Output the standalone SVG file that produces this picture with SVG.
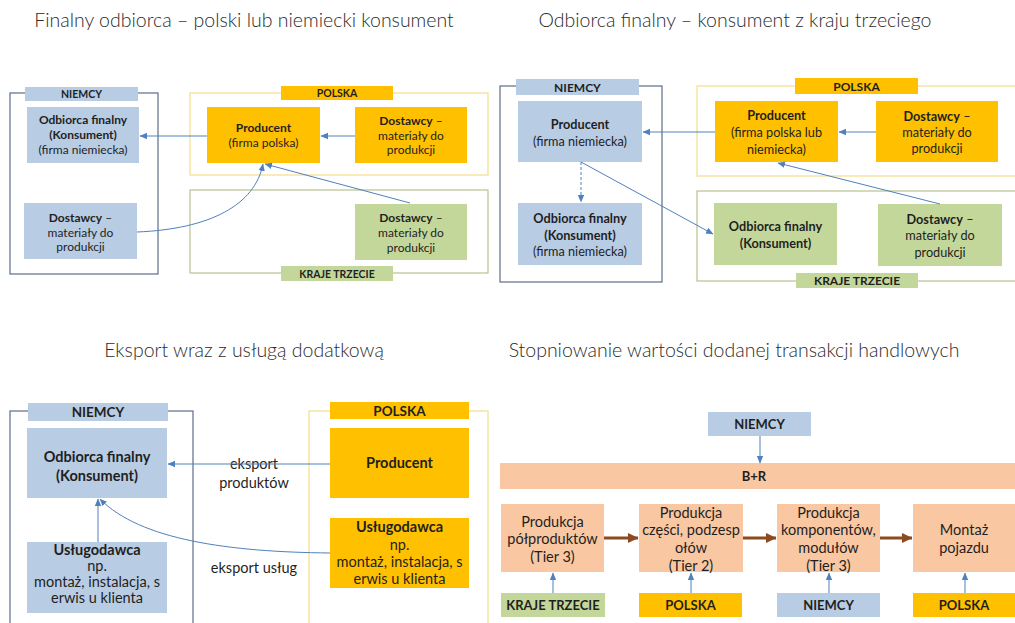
<svg xmlns="http://www.w3.org/2000/svg" width="1015" height="623" viewBox="0 0 1015 623">
<style>
.title{font-family:Lato,"Liberation Sans",sans-serif;font-weight:300;font-size:19.5px;fill:#2b2b2b;text-anchor:middle}
.t{font-family:Lato,"Liberation Sans",sans-serif;fill:#1f1f1f;text-anchor:middle}
.b{font-weight:bold}
.s1{font-size:12px}
.s2{font-size:12.7px}
.s3{font-size:14.5px}
.blue{fill:#b8cce4}
.gold{fill:#ffc000}
.green{fill:#c4d79b}
.peach{fill:#f9c7a2}
.frDE{fill:none;stroke:#5a6e88;stroke-width:1.2}
.frPL{fill:none;stroke:#f3de8a;stroke-width:1.2}
.frKT{fill:none;stroke:#b9c28f;stroke-width:1.2}
.c{fill:none;stroke:#4f81bd;stroke-width:1;marker-end:url(#ah)}
.cd{fill:none;stroke:#4f81bd;stroke-width:1;stroke-dasharray:3,2;marker-end:url(#ah)}
.cb{fill:none;stroke:#8c4a22;stroke-width:3;marker-end:url(#ahb)}
</style>
<defs>
<marker id="ah" markerUnits="userSpaceOnUse" markerWidth="8" markerHeight="8" viewBox="0 0 8 8" refX="7" refY="4" orient="auto">
<path d="M0,0.8 L7.5,4 L0,7.2 Z" fill="#4f81bd"/>
</marker>
<marker id="ahb" markerUnits="userSpaceOnUse" markerWidth="11" markerHeight="11" viewBox="0 0 11 11" refX="10" refY="5.5" orient="auto">
<path d="M0,0.5 L10.5,5.5 L0,10.5 Z" fill="#8c4a22"/>
</marker>
</defs>
<rect width="1015" height="623" fill="#ffffff"/>

<!-- Titles -->
<text class="title" x="244" y="27">Finalny odbiorca – polski lub niemiecki konsument</text>
<text class="title" x="735" y="27">Odbiorca finalny – konsument z kraju trzeciego</text>
<text class="title" x="244" y="357">Eksport wraz z usługą dodatkową</text>
<text class="title" x="734" y="357">Stopniowanie wartości dodanej transakcji handlowych</text>

<!-- ===== Quadrant 1 ===== -->
<g id="q1-niemcy-frame">
<rect class="frDE" x="10" y="93" width="148" height="181"/>
<rect class="blue" x="25" y="87" width="113" height="14"/>
<text class="t b" style="font-size:10.5px" x="81.5" y="98">NIEMCY</text>
</g>
<g id="q1-polska-frame">
<rect class="frPL" x="190" y="93" width="298" height="82"/>
<rect class="gold" x="281" y="86" width="112" height="14"/>
<text class="t b" style="font-size:10.5px" x="337" y="97">POLSKA</text>
</g>
<g id="q1-kt-frame">
<rect class="frKT" x="190" y="190" width="298" height="83"/>
<rect class="green" x="281" y="266" width="112" height="15"/>
<text class="t b" style="font-size:10.5px" x="337" y="277.5">KRAJE TRZECIE</text>
</g>
<g id="q1-odbiorca">
<rect class="blue" x="27" y="107" width="112" height="56"/>
<text class="t s1"><tspan class="b" x="83" y="124">Odbiorca finalny</tspan><tspan class="b" x="83" y="139">(Konsument)</tspan><tspan x="83" y="154">(firma niemiecka)</tspan></text>
</g>
<g id="q1-dostawcy-de">
<rect class="blue" x="24" y="203" width="113" height="56"/>
<text class="t s1"><tspan x="80.5" y="222"><tspan class="b">Dostawcy</tspan> –</tspan><tspan x="80.5" y="236.5">materiały do</tspan><tspan x="80.5" y="251">produkcji</tspan></text>
</g>
<g id="q1-producent">
<rect class="gold" x="207" y="107" width="113" height="56"/>
<text class="t s1"><tspan class="b" x="263.5" y="132">Producent</tspan><tspan x="263.5" y="147">(firma polska)</tspan></text>
</g>
<g id="q1-dostawcy-pl">
<rect class="gold" x="355" y="107" width="112" height="56"/>
<text class="t s1"><tspan x="411" y="125"><tspan class="b">Dostawcy</tspan> –</tspan><tspan x="411" y="140">materiały do</tspan><tspan x="411" y="154">produkcji</tspan></text>
</g>
<g id="q1-dostawcy-kt">
<rect class="green" x="355" y="204" width="112" height="56"/>
<text class="t s1"><tspan x="411" y="222"><tspan class="b">Dostawcy</tspan> –</tspan><tspan x="411" y="237">materiały do</tspan><tspan x="411" y="252">produkcji</tspan></text>
</g>

<!-- ===== Quadrant 2 ===== -->
<g id="q2-niemcy-frame">
<rect class="frDE" x="500" y="86" width="162" height="196"/>
<rect class="blue" x="516" y="79" width="123" height="16"/>
<text class="t b" style="font-size:12px" x="577.5" y="91.5">NIEMCY</text>
</g>
<g id="q2-polska-frame">
<rect class="frPL" x="697" y="86" width="330" height="90"/>
<rect class="gold" x="795" y="78" width="123" height="16"/>
<text class="t b" style="font-size:12px" x="856.5" y="90.5">POLSKA</text>
</g>
<g id="q2-kt-frame">
<rect class="frKT" x="697" y="191" width="330" height="90"/>
<rect class="green" x="796" y="273" width="122" height="15"/>
<text class="t b" style="font-size:12px" x="857" y="285">KRAJE TRZECIE</text>
</g>
<g id="q2-producent-de">
<rect class="blue" x="518" y="101" width="124" height="61"/>
<text class="t s2"><tspan class="b" x="580" y="128.5">Producent</tspan><tspan x="580" y="145.5">(firma niemiecka)</tspan></text>
</g>
<g id="q2-odbiorca-de">
<rect class="blue" x="518" y="203" width="124" height="62"/>
<text class="t s2"><tspan class="b" x="580" y="222.5">Odbiorca finalny</tspan><tspan class="b" x="580" y="239.5">(Konsument)</tspan><tspan x="580" y="255.5">(firma niemiecka)</tspan></text>
</g>
<g id="q2-producent-pl">
<rect class="gold" x="715" y="101" width="123" height="61"/>
<text class="t s2"><tspan class="b" x="776.5" y="119.5">Producent</tspan><tspan x="776.5" y="136.5">(firma polska lub</tspan><tspan x="776.5" y="153.5">niemiecka)</tspan></text>
</g>
<g id="q2-dostawcy-pl">
<rect class="gold" x="876" y="101" width="122" height="61"/>
<text class="t s2"><tspan x="937" y="120.5"><tspan class="b">Dostawcy</tspan> –</tspan><tspan x="937" y="136.5">materiały do</tspan><tspan x="937" y="152.5">produkcji</tspan></text>
</g>
<g id="q2-odbiorca-kt">
<rect class="green" x="714" y="203" width="123" height="62"/>
<text class="t s2"><tspan class="b" x="775.5" y="230.5">Odbiorca finalny</tspan><tspan class="b" x="775.5" y="247.5">(Konsument)</tspan></text>
</g>
<g id="q2-dostawcy-kt">
<rect class="green" x="878" y="204" width="124" height="62"/>
<text class="t s2"><tspan x="940" y="223.5"><tspan class="b">Dostawcy</tspan> –</tspan><tspan x="940" y="239.5">materiały do</tspan><tspan x="940" y="256.5">produkcji</tspan></text>
</g>

<!-- ===== Quadrant 3 ===== -->
<g id="q3-niemcy-frame">
<rect class="frDE" x="10" y="411" width="183" height="230"/>
<rect class="blue" x="28" y="403" width="140" height="18"/>
<text class="t b" style="font-size:13.5px" x="98" y="417">NIEMCY</text>
</g>
<g id="q3-polska-frame">
<rect class="frPL" x="309" y="411" width="179" height="230"/>
<rect class="gold" x="330" y="402" width="139" height="17"/>
<text class="t b" style="font-size:13.5px" x="399.5" y="415.5">POLSKA</text>
</g>
<g id="q3-odbiorca">
<rect class="blue" x="27" y="428" width="140" height="70"/>
<text class="t s3 b"><tspan x="97" y="462">Odbiorca finalny</tspan><tspan x="97" y="481">(Konsument)</tspan></text>
</g>
<g id="q3-uslugodawca-de">
<rect class="blue" x="27" y="542" width="140" height="71"/>
<text class="t s3"><tspan class="b" x="97" y="555">Usługodawca</tspan><tspan x="97" y="571">np.</tspan><tspan x="97" y="587">montaż, instalacja, s</tspan><tspan x="97" y="603">erwis u klienta</tspan></text>
</g>
<g id="q3-producent">
<rect class="gold" x="330" y="428" width="139" height="70"/>
<text class="t s3 b" x="399.5" y="468">Producent</text>
</g>
<g id="q3-uslugodawca-pl">
<rect class="gold" x="330" y="518" width="139" height="70"/>
<text class="t s3"><tspan class="b" x="399.5" y="532">Usługodawca</tspan><tspan x="399.5" y="550">np.</tspan><tspan x="399.5" y="567">montaż, instalacja, s</tspan><tspan x="399.5" y="584">erwis u klienta</tspan></text>
</g>

<!-- ===== Quadrant 4 ===== -->
<g id="q4-niemcy-top">
<rect class="blue" x="708" y="412" width="103" height="24"/>
<text class="t b" style="font-size:13px" x="759.5" y="428.5">NIEMCY</text>
</g>
<g id="q4-br">
<rect class="peach" x="500" y="463" width="520" height="26"/>
<text class="t b" style="font-size:13px" x="754" y="480.5">B+R</text>
</g>
<g id="q4-polprodukty">
<rect class="peach" x="501" y="504" width="103" height="68"/>
<text class="t s3"><tspan x="552.5" y="527">Produkcja</tspan><tspan x="552.5" y="544">półproduktów</tspan><tspan x="552.5" y="562">(Tier 3)</tspan></text>
</g>
<g id="q4-czesci">
<rect class="peach" x="639" y="504" width="104" height="68"/>
<text class="t s3"><tspan x="691" y="518">Produkcja</tspan><tspan x="691" y="535">części, podzesp</tspan><tspan x="691" y="553">ołów</tspan><tspan x="691" y="571">(Tier 2)</tspan></text>
</g>
<g id="q4-komponenty">
<rect class="peach" x="777" y="504" width="103" height="68"/>
<text class="t s3"><tspan x="828.5" y="518">Produkcja</tspan><tspan x="828.5" y="535">komponentów,</tspan><tspan x="828.5" y="553">modułów</tspan><tspan x="828.5" y="571">(Tier 3)</tspan></text>
</g>
<g id="q4-montaz">
<rect class="peach" x="913" y="504" width="110" height="68"/>
<text class="t s3"><tspan x="964" y="535">Montaż</tspan><tspan x="964" y="553">pojazdu</tspan></text>
</g>
<g id="q4-kt">
<rect class="green" x="501" y="593" width="104" height="24"/>
<text class="t b" style="font-size:13px" x="553" y="610">KRAJE TRZECIE</text>
</g>
<g id="q4-polska1">
<rect class="gold" x="639" y="593" width="103" height="24"/>
<text class="t b" style="font-size:13px" x="690.5" y="610">POLSKA</text>
</g>
<g id="q4-niemcy-bottom">
<rect class="blue" x="777" y="593" width="103" height="24"/>
<text class="t b" style="font-size:13px" x="828.5" y="610">NIEMCY</text>
</g>
<g id="q4-polska2">
<rect class="gold" x="913" y="593" width="110" height="24"/>
<text class="t b" style="font-size:13px" x="964" y="610">POLSKA</text>
</g>

<!-- Connector labels -->
<g id="labels">
<text class="t s3"><tspan x="254" y="469">eksport</tspan><tspan x="254" y="488">produktów</tspan></text>
<text class="t s3" x="254" y="573">eksport usług</text>
</g>

<!-- Connectors -->
<g id="connectors">
<!-- Q1 -->
<path class="c" d="M207,136 L140,136"/>
<path class="c" d="M355,136 L321,136"/>
<path class="c" d="M410,203 L265,164"/>
<path class="c" d="M137,232 C210,229 255,205 263,164"/>
<!-- Q2 -->
<path class="c" d="M715,132 L643,132"/>
<path class="c" d="M876,132 L839,132"/>
<path class="cd" d="M581,162 L581,202"/>
<path class="c" d="M581,162 L713,234"/>
<path class="c" d="M940,204 L778,163"/>
<!-- Q3 -->
<path class="c" d="M330,464 L168,464"/>
<path class="c" d="M98,542 L98,499"/>
<path class="c" d="M330,553 C230,552 140,540 100,499"/>
<!-- Q4 -->
<path class="c" d="M760,436 L760,463"/>
<path class="cb" d="M604,538 L638,538"/>
<path class="cb" d="M743,538 L776,538"/>
<path class="cb" d="M880,538 L912,538"/>
<path class="c" d="M553,593 L553,573"/>
<path class="c" d="M691,593 L691,573"/>
<path class="c" d="M829,593 L829,573"/>
<path class="c" d="M965,593 L965,573"/>
</g>
</svg>
